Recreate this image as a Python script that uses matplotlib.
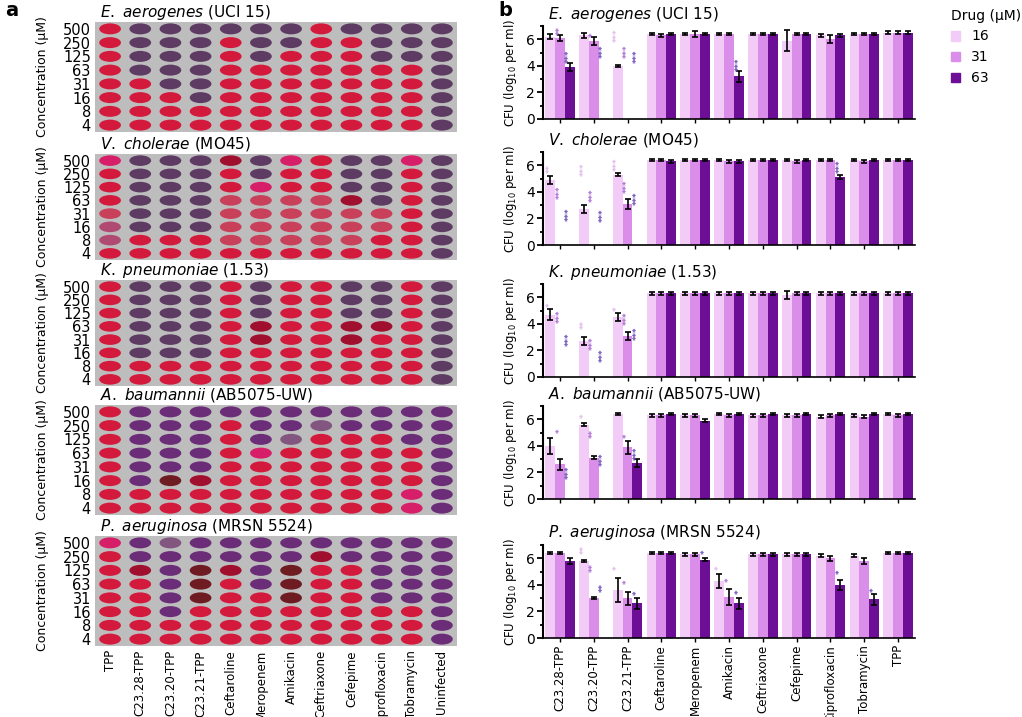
import matplotlib.pyplot as plt
import numpy as np
from matplotlib.patches import Ellipse, Patch

# ---- dados ----
conc_labels = ['500', '250', '125', '63', '31', '16', '8', '4']
plate_drugs = ['TPP', 'C23.28-TPP', 'C23.20-TPP', 'C23.21-TPP', 'Ceftaroline', 'Meropenem',
               'Amikacin', 'Ceftriaxone', 'Cefepime', 'Ciprofloxacin', 'Tobramycin', 'Uninfected']
bar_drugs = ['C23.28-TPP', 'C23.20-TPP', 'C23.21-TPP', 'Ceftaroline', 'Meropenem', 'Amikacin',
             'Ceftriaxone', 'Cefepime', 'Ciprofloxacin', 'Tobramycin', 'TPP']
doses = ['16', '31', '63']

titles = [r'$\it{E.\ aerogenes}$ (UCI 15)', r'$\it{V.\ cholerae}$ (MO45)',
          r'$\it{K.\ pneumoniae}$ (1.53)', r'$\it{A.\ baumannii}$ (AB5075-UW)',
          r'$\it{P.\ aeruginosa}$ (MRSN 5524)']

# cor de cada poço (linhas 500 -> 4)
ea_plate = ["RPPPPPPRPPPP", "RPPPRPPRRPPP", "RPPPRPRRRPPP", "RPPPRRRRRRRP",
            "RRPPRRRRRRRP", "RRRPRRRRRRRP", "RRRRRRRRRRRP", "RRRRRRRRRRRP"]
vc_plate = ["MPPPDPMRPPMP", "RPPPRPRRPPRP", "RPPPRMRRPPRP", "RPPPrrrrDPRP",
            "rPPPrrrrrrRP", "mPPPrrrrrrRP", "mRRRrrrrrRRP", "RRRRRRRRRRRP"]
kp_plate = ["RPPPRPRRPPRP", "RPPPRPRRPPRP", "RPPPRPRRPPRP", "RPPPRDRRDDRP",
            "RPPPRDRRDRRP", "RPPPRRRRRRRP", "RRRRRRRRRRRP", "RRRRRRRRRRRP"]
ab_plate = ["RVVVVVVVVVVV", "RVVVRVVLVVVV", "RVVVRVLRRRVV", "RVVVRMRRRRRV",
            "RVVVRRRRRRRV", "RVBDRRRRRRRV", "RRRRRRRRRRMV", "RRRRRRRRRRMV"]
pa_plate = ["MVLVVVVVVVVV", "RVVVVVVDVVVV", "RDVBDVBRRVVV", "RRVBRVBRRVVV",
            "RRVBRRBRRVVV", "RRVRRRRRRRRV", "RRRRRRRRRRRV", "RRRRRRRRRRRV"]

# CFU (log10 por ml) para 16, 31, 63 uM
ea_cfu = [[6.2, 6.3, 4.0, 6.4, 6.4, 6.4, 6.4, 5.9, 6.3, 6.4, 6.5],
          [6.1, 5.9, 0.0, 6.3, 6.4, 6.4, 6.4, 6.4, 6.0, 6.4, 6.5],
          [3.9, 0.0, 0.0, 6.4, 6.4, 3.2, 6.4, 6.4, 6.3, 6.4, 6.5]]
ea_err = [[0.2, 0.2, 0.1, 0.1, 0.1, 0.1, 0.1, 0.8, 0.1, 0.1, 0.1],
          [0.2, 0.3, 0.0, 0.1, 0.2, 0.1, 0.1, 0.1, 0.3, 0.1, 0.1],
          [0.3, 0.0, 0.0, 0.1, 0.1, 0.4, 0.1, 0.1, 0.1, 0.1, 0.1]]
vc_cfu = [[4.9, 2.7, 5.3, 6.4, 6.4, 6.4, 6.4, 6.4, 6.4, 6.4, 6.4],
          [0.0, 0.0, 3.1, 6.4, 6.4, 6.3, 6.4, 6.3, 6.4, 6.3, 6.4],
          [0.0, 0.0, 0.0, 6.3, 6.4, 6.3, 6.4, 6.4, 5.1, 6.4, 6.4]]
vc_err = [[0.3, 0.3, 0.1, 0.1, 0.1, 0.1, 0.1, 0.1, 0.1, 0.1, 0.1],
          [0.0, 0.0, 0.4, 0.1, 0.1, 0.1, 0.1, 0.1, 0.1, 0.1, 0.1],
          [0.0, 0.0, 0.0, 0.1, 0.1, 0.1, 0.1, 0.1, 0.15, 0.1, 0.1]]
kp_cfu = [[4.7, 2.7, 4.5, 6.3, 6.3, 6.3, 6.3, 6.2, 6.3, 6.3, 6.3],
          [0.0, 0.0, 3.1, 6.3, 6.3, 6.3, 6.3, 6.3, 6.3, 6.3, 6.3],
          [0.0, 0.0, 0.0, 6.3, 6.3, 6.3, 6.3, 6.3, 6.3, 6.3, 6.3]]
kp_err = [[0.4, 0.3, 0.3, 0.1, 0.1, 0.1, 0.1, 0.3, 0.1, 0.1, 0.1],
          [0.0, 0.0, 0.3, 0.1, 0.1, 0.1, 0.1, 0.1, 0.1, 0.1, 0.1],
          [0.0, 0.0, 0.0, 0.1, 0.1, 0.1, 0.1, 0.1, 0.1, 0.1, 0.1]]
ab_cfu = [[4.0, 5.6, 6.4, 6.3, 6.3, 6.4, 6.3, 6.3, 6.2, 6.3, 6.4],
          [2.6, 3.1, 3.9, 6.3, 6.3, 6.3, 6.3, 6.3, 6.3, 6.2, 6.3],
          [0.0, 0.0, 2.7, 6.4, 5.9, 6.4, 6.4, 6.4, 6.4, 6.4, 6.4]]
ab_err = [[0.6, 0.1, 0.1, 0.1, 0.1, 0.1, 0.1, 0.1, 0.1, 0.1, 0.1],
          [0.4, 0.1, 0.5, 0.1, 0.1, 0.1, 0.1, 0.1, 0.1, 0.1, 0.1],
          [0.0, 0.0, 0.3, 0.1, 0.1, 0.1, 0.1, 0.1, 0.1, 0.1, 0.1]]
pa_cfu = [[6.4, 5.8, 3.6, 6.4, 6.3, 4.3, 6.3, 6.3, 6.2, 6.2, 6.4],
          [6.4, 3.0, 3.0, 6.4, 6.3, 3.1, 6.3, 6.3, 6.0, 5.8, 6.4],
          [5.8, 0.0, 2.6, 6.4, 5.9, 2.6, 6.3, 6.3, 4.0, 2.9, 6.4]]
pa_err = [[0.1, 0.1, 0.9, 0.1, 0.1, 0.5, 0.1, 0.1, 0.1, 0.1, 0.1],
          [0.1, 0.1, 0.5, 0.1, 0.1, 0.6, 0.1, 0.1, 0.2, 0.2, 0.1],
          [0.2, 0.0, 0.4, 0.1, 0.1, 0.4, 0.1, 0.1, 0.4, 0.4, 0.1]]

# asteriscos: (grupo, dose, y, texto)
ea_stars = [(0, 1, 6.3, '**'), (0, 2, 4.2, '***'), (1, 1, 6.2, '*'), (1, 2, 4.6, '***'),
            (2, 0, 5.8, '***'), (2, 1, 4.6, '***'), (2, 2, 4.2, '***'), (5, 2, 3.6, '***')]
vc_stars = [(0, 0, 5.4, '**'), (0, 1, 3.5, '***'), (0, 2, 1.8, '***'), (1, 0, 5.2, '***'),
            (1, 1, 3.2, '***'), (1, 2, 1.7, '***'), (2, 0, 5.6, '***'), (2, 1, 3.9, '***'),
            (2, 2, 3.0, '***'), (8, 2, 5.4, '***')]
kp_stars = [(0, 0, 5.3, '*'), (0, 1, 4.1, '***'), (0, 2, 2.3, '***'), (1, 0, 3.6, '**'),
            (1, 1, 2.0, '***'), (1, 2, 1.1, '***'), (2, 0, 5.0, '*'), (2, 1, 3.9, '***'),
            (2, 2, 2.8, '***')]
ab_stars = [(0, 1, 5.0, '*'), (0, 2, 1.5, '***'), (1, 0, 6.1, '*'), (1, 1, 4.6, '**'),
            (1, 2, 2.5, '***'), (2, 1, 4.6, '*'), (2, 2, 2.9, '***')]
pa_stars = [(1, 0, 6.3, '**'), (1, 1, 5.0, '**'), (1, 2, 3.5, '**'), (2, 0, 5.1, '*'),
            (2, 1, 4.1, '*'), (2, 2, 3.2, '*'), (4, 2, 6.3, '*'), (5, 0, 5.1, '*'),
            (5, 1, 4.2, '*'), (5, 2, 3.3, '*'), (8, 2, 4.8, '*'), (9, 2, 3.5, '*')]

plates = [ea_plate, vc_plate, kp_plate, ab_plate, pa_plate]
cfus = [ea_cfu, vc_cfu, kp_cfu, ab_cfu, pa_cfu]
errs = [ea_err, vc_err, kp_err, ab_err, pa_err]
stars = [ea_stars, vc_stars, kp_stars, ab_stars, pa_stars]

dot_colors = {'R': '#d41a3c', 'M': '#d61f68', 'r': '#c9405a', 'm': '#b04a72', 'D': '#a0102e',
              'B': '#6e1c22', 'P': '#5d3b63', 'V': '#6b2d78', 'L': '#82567f'}
bar_colors = ['#f2cbf6', '#da8de9', '#6c0f96']
star_colors = ['#e2b8ee', '#a86cd2', '#6a4cb8']

W, H = 1022, 717
fig = plt.figure(figsize=(W / 100, H / 100), dpi=100)


def box(x0, y0, w, h):
    return [x0 / W, 1 - (y0 + h) / H, w / W, h / H]


# ---- painel a: placas ----
plate_tops = [22, 154, 280, 405, 536]
plate_h = [110, 106, 106, 110, 110]
for k in range(5):
    ax = fig.add_axes(box(95, plate_tops[k], 362, plate_h[k]))
    ax.set_facecolor('#bdbdbd')
    for i, row in enumerate(plates[k]):
        for j, code in enumerate(row):
            ax.add_patch(Ellipse((j, i), 0.72, 0.8, color=dot_colors[code], lw=0))
    ax.set_xlim(-0.5, 11.5)
    ax.set_ylim(7.5, -0.5)
    ax.set_yticks(range(8))
    ax.set_yticklabels(conc_labels, fontsize=10.5)
    ax.set_xticks(range(12))
    if k == 4:
        ax.set_xticklabels(plate_drugs, rotation=90, fontsize=8.5)
    else:
        ax.set_xticklabels([])
    ax.tick_params(length=0, pad=3)
    for s in ax.spines.values():
        s.set_visible(False)
    ax.set_ylabel('Concentration (µM)', fontsize=9, labelpad=10)
    fig.text(100 / W, 1 - (plate_tops[k] - 10) / H, titles[k], fontsize=11, ha='left', va='center')

# ---- painel b: barras ----
offs = [-0.29, 0.0, 0.29]
x = np.arange(len(bar_drugs))
axis_bottoms = [119, 245, 377, 499, 638]
for k in range(5):
    ax = fig.add_axes(box(543, axis_bottoms[k] - 93, 372, 93))
    for s in range(3):
        vals = np.array(cfus[k][s])
        err = np.array(errs[k][s])
        ax.bar(x + offs[s], vals, width=0.29, color=bar_colors[s], label=doses[s])
        ok = vals > 0
        ax.errorbar(x[ok] + offs[s], vals[ok], yerr=err[ok], fmt='none', ecolor='black',
                    elinewidth=1.2, capsize=2, capthick=1.2)
    for g, s, y, txt in stars[k]:
        ax.text(g + offs[s], y, txt, rotation=90, fontsize=6, color=star_colors[s],
                ha='center', va='bottom', fontweight='bold')
    ax.set_xlim(-0.5, 10.5)
    ax.set_ylim(0, 7)
    ax.set_yticks([0, 2, 4, 6])
    ax.set_yticks([1, 3, 5, 7], minor=True)
    ax.tick_params(axis='y', labelsize=10, width=1.3, length=4, pad=2)
    ax.tick_params(axis='y', which='minor', width=1.3, length=2.5)
    ax.set_xticks(x)
    ax.tick_params(axis='x', length=3, width=1, pad=2)
    if k == 4:
        ax.set_xticklabels(bar_drugs, rotation=90, fontsize=8.5)
    else:
        ax.set_xticklabels([])
    for side in ['top', 'right']:
        ax.spines[side].set_visible(False)
    ax.spines['left'].set_linewidth(1.5)
    ax.spines['bottom'].set_linewidth(1.2)
    ax.set_ylabel(r'CFU (log$_{10}$ per ml)', fontsize=8.5, labelpad=5)
    fig.text(548 / W, 1 - (axis_bottoms[k] - 93 - 12) / H, titles[k], fontsize=11,
             ha='left', va='center')

fig.text(5 / W, 1 - 16 / H, 'a', fontsize=14, fontweight='bold')
fig.text(498 / W, 1 - 16 / H, 'b', fontsize=14, fontweight='bold')

handles = [Patch(color=c) for c in bar_colors]
fig.legend(handles, doses, loc='upper left', bbox_to_anchor=(945 / W, 1 - 3 / H), frameon=False,
           title='Drug (µM)', fontsize=10, title_fontsize=10, handlelength=0.7, handleheight=0.7,
           labelspacing=0.5, alignment='left', borderaxespad=0)

plt.savefig('out.png', dpi=100)
